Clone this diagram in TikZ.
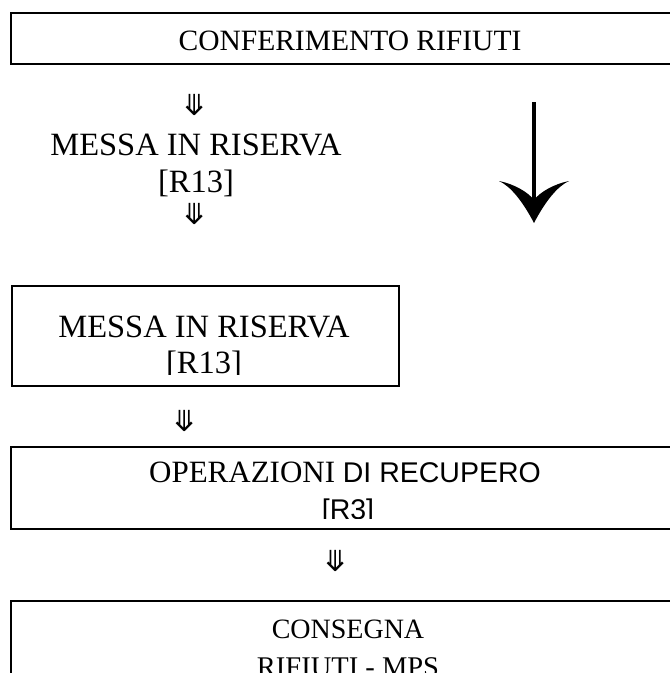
\documentclass[tikz,border=0pt]{standalone}
\usepackage{fontspec}
\setmainfont{Liberation Serif}
\newfontfamily\arialfont{Liberation Sans}
\newfontfamily\symfont{DejaVu Sans}

\begin{document}
\begin{tikzpicture}[x=1pt, y=-1pt,
  every node/.style={inner sep=0pt},
  box/.style={draw, line width=1.6pt, rectangle, anchor=north west},
  testo/.style={anchor=base, font=\fontsize{32.5}{32.5}\selectfont},
  freccia/.style={font=\symfont\fontsize{29}{29}\selectfont}]
  \useasboundingbox (0,0) rectangle (670,673);
  % Riquadri
  \node[box, minimum width=690pt, minimum height=51pt] (b1) at (10,12) {};
  \node[box, minimum width=387pt, minimum height=100pt] (b2) at (11,285) {};
  \node[box, minimum width=690pt, minimum height=82pt] (b3) at (10,446) {};
  \node[box, minimum width=690pt, minimum height=120pt] (b4) at (10,600) {};
  % Testi e frecce
  \node[testo, font=\fontsize{29.5}{29.5}\selectfont] (t1) at (350,50) {CONFERIMENTO RIFIUTI};
  \node[freccia] (f1) at (195,105) {⤋};
  \node[testo] (t2) at (196,155) {MESSA IN RISERVA};
  \node[testo] (t3) at (196,192) {[R13]};
  \node[freccia] (f2) at (195,214) {⤋};
  \begin{scope}
    \clip (11,285) rectangle (398,374);
    \node[testo] (t4) at (204,337) {MESSA IN RISERVA};
    \node[testo] (t5) at (204,373) {[R13]};
  \end{scope}
  \node[freccia] (f3) at (185,421) {⤋};
  \node[testo, font=\fontsize{31}{31}\selectfont] (t6) at (345,482) {OPERAZIONI {\arialfont\fontsize{28.5}{28.5}\selectfont DI RECUPERO}};
  \begin{scope}
    \clip (10,446) rectangle (690,518);
    \node[testo, font=\arialfont\fontsize{28.5}{28.5}\selectfont] (t7) at (348,519) {[R3]};
  \end{scope}
  \node[freccia] (f4) at (336,561) {⤋};
  \node[testo, font=\fontsize{28}{28}\selectfont] (t8) at (348,638) {CONSEGNA};
  \node[testo, font=\fontsize{28.5}{28.5}\selectfont] (t9) at (348,676) {RIFIUTI - MPS};
  % Freccia grande
  \coordinate (gtop) at (534,102);
  \coordinate (gtip) at (534,223);
  \draw[line width=4pt] (gtop) -- (534,205);
  \fill (gtip) .. controls (522,200) and (510,186) .. (499,181)
    .. controls (514,184) and (528,192) .. (534,200)
    .. controls (540,192) and (554,184) .. (569,181)
    .. controls (558,186) and (546,200) .. (gtip) -- cycle;
\end{tikzpicture}
\end{document}
